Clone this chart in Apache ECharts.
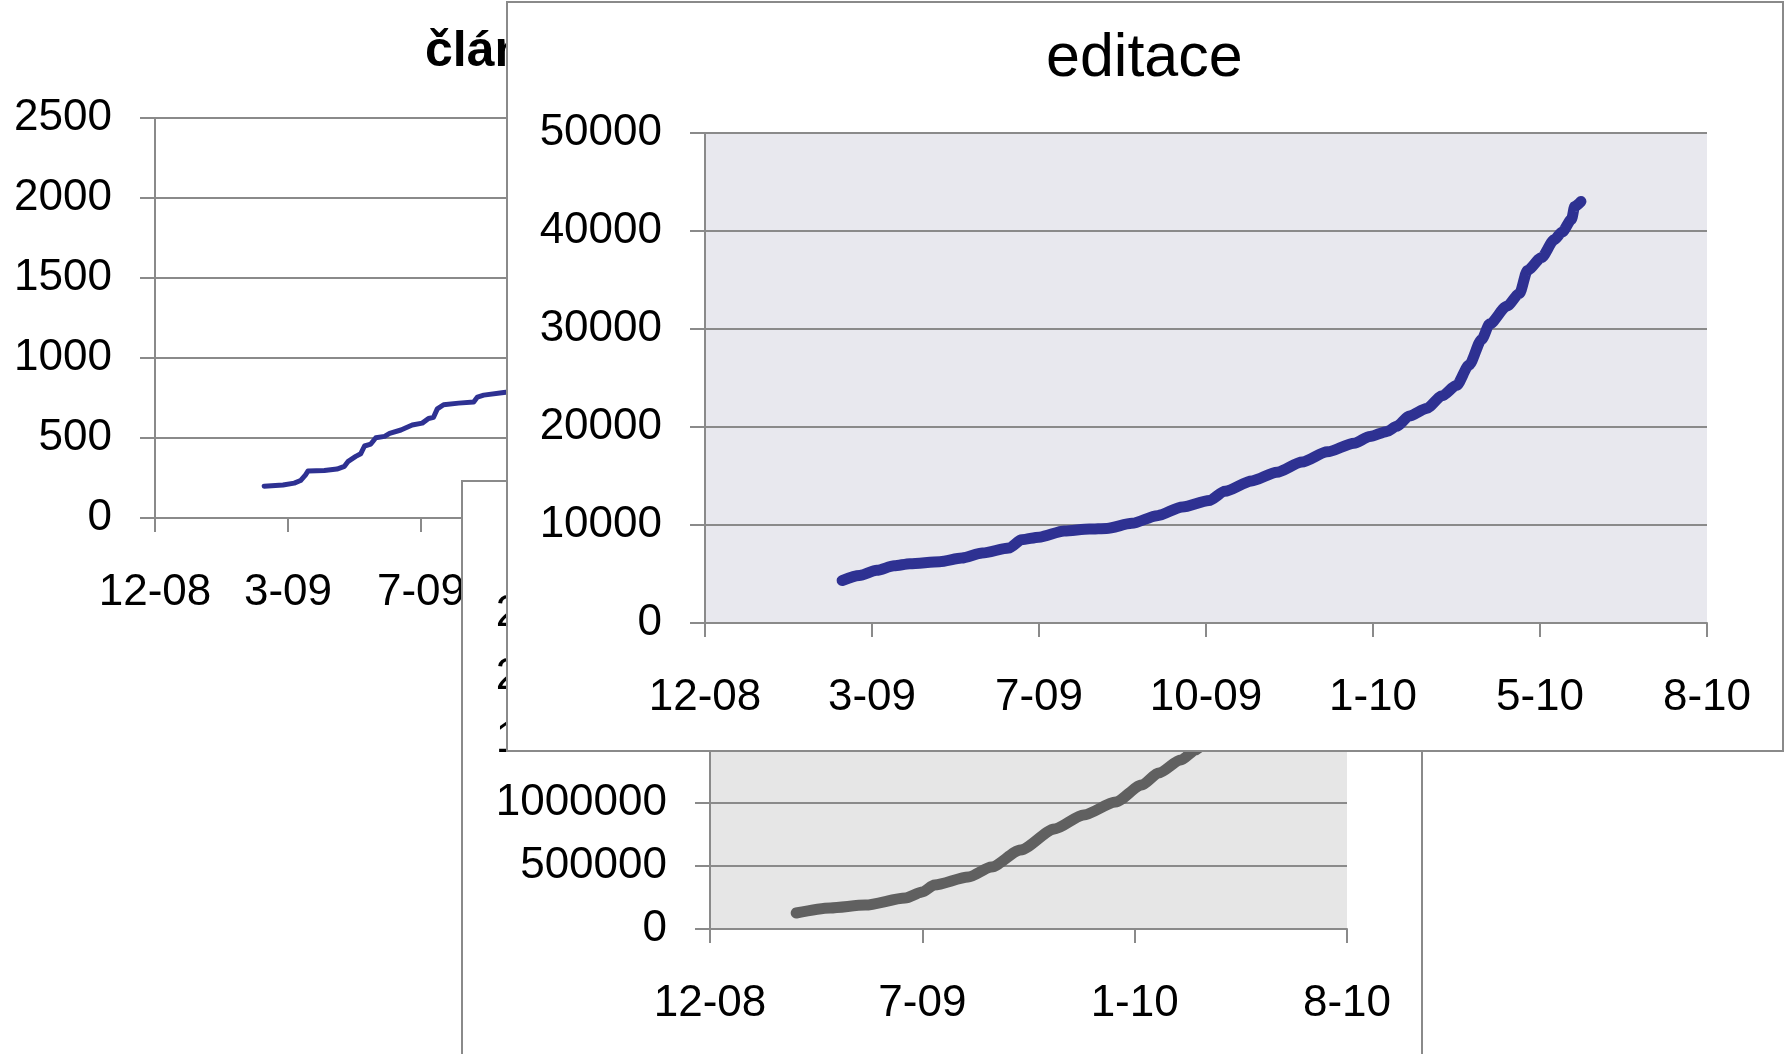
<!DOCTYPE html>
<html><head><meta charset="utf-8">
<script src="https://cdn.jsdelivr.net/npm/echarts@6/dist/echarts.min.js"></script>
<style>
html,body{margin:0;padding:0;width:1785px;height:1054px;overflow:hidden;background:#fff;}
.box{position:absolute;background:#fff;box-sizing:border-box;}
#c1{left:0;top:0;width:1000px;height:700px;z-index:1;}
#c3{left:461px;top:480px;width:962px;height:600px;border:2px solid #8a8a8a;z-index:2;}
#c2{left:506px;top:1px;width:1278px;height:751px;border:2px solid #8a8a8a;z-index:3;}
</style></head>
<body>
<div id="c1" class="box"></div>
<div id="c3" class="box"></div>
<div id="c2" class="box"></div>
<script>
// ---- data ----
const xTickLabels = ['12-08','3-09','7-09','10-09','1-10','5-10','8-10'];
const xTickLabelsWide = ['12-08','7-09','1-10','8-10'];

const articleDates = ['2009-02-26','2009-03-13','2009-03-22','2009-03-27','2009-03-31','2009-04-02','2009-04-15','2009-04-25','2009-05-01','2009-05-04','2009-05-10','2009-05-14','2009-05-17','2009-05-22','2009-05-26','2009-06-02','2009-06-06','2009-06-15','2009-06-24','2009-07-02','2009-07-07','2009-07-11','2009-07-14','2009-07-19','2009-07-31','2009-08-12','2009-08-15','2009-08-20','2009-09-05','2009-09-17'];
const articleCounts = [199,206,218,234,270,294,297,306,323,354,385,402,450,462,502,510,529,550,581,593,622,629,682,708,718,725,756,768,785,795];

const editDates = ['2009-02-26','2009-03-09','2009-03-20','2009-03-31','2009-04-10','2009-04-29','2009-05-13','2009-05-26','2009-06-12','2009-06-20','2009-07-01','2009-07-17','2009-08-02','2009-08-13','2009-08-29','2009-09-14','2009-09-30','2009-10-17','2009-10-27','2009-11-13','2009-11-29','2009-12-15','2009-12-31','2010-01-17','2010-01-27','2010-02-07','2010-02-13','2010-02-21','2010-03-04','2010-03-14','2010-03-23','2010-03-31','2010-04-08','2010-04-13','2010-04-24','2010-05-02','2010-05-07','2010-05-16','2010-05-24','2010-05-29','2010-06-04','2010-06-06','2010-06-10'];
const editCounts = [4330,4850,5370,5840,6050,6260,6620,7140,7660,8500,8760,9390,9590,9650,10170,10950,11840,12510,13450,14500,15380,16420,17470,18350,19030,19550,20070,21120,21900,23200,24250,26330,28940,30500,32330,33630,35980,37300,39100,39890,41190,42490,43010];

const sizeDates = ['2009-02-25','2009-03-31','2009-05-05','2009-06-14','2009-07-01','2009-07-13','2009-08-16','2009-09-08','2009-10-07','2009-11-10','2009-12-09','2010-01-10','2010-02-05','2010-02-22','2010-03-16','2010-03-31','2010-04-10'];
const sizeValues = [127000,167000,190000,246000,294000,349000,413000,492000,627000,794000,905000,1008000,1143000,1238000,1341000,1421000,1500000];

// ---- helpers ----
const ORIGIN = Date.UTC(2008,11,1);
const TICK_DAYS = 106;
const FONT = '"Liberation Sans", Arial, sans-serif';
const GRID = '#8a8a8a';
function dayOf(s){const p=s.split('-').map(Number);return Math.round((Date.UTC(p[0],p[1]-1,p[2])-ORIGIN)/86400000);}
function pairs(dates, vals){return dates.map((d,i)=>[dayOf(d), vals[i]]);}

function xAxisCfg(step, labels){
  return {type:'value', min:0, max:TICK_DAYS*6, interval:step,
    axisLine:{show:true, onZero:false, lineStyle:{color:GRID,width:2}},
    axisTick:{show:true, length:14, lineStyle:{color:GRID,width:2}},
    splitLine:{show:false},
    axisLabel:{fontSize:44, color:'#000', margin:53, fontFamily:FONT,
      formatter:v=>labels[Math.round(v/step)]}};
}
function yAxisCfg(max, step){
  return {type:'value', min:0, max:max, interval:step,
    axisLine:{show:true, lineStyle:{color:GRID,width:2}},
    axisTick:{show:true, length:15, lineStyle:{color:GRID,width:2}},
    splitLine:{show:true, lineStyle:{color:GRID,width:2}},
    axisLabel:{fontSize:44, color:'#000', margin:43, fontFamily:FONT, formatter:v=>String(v)}};
}

// ---- chart 1: články ----
const ch1 = echarts.init(document.getElementById('c1'));
ch1.setOption({
  animation:false,
  title:{text:'články', left:420, top:22, textStyle:{fontSize:50, fontWeight:'bold', fontFamily:FONT, color:'#000'}},
  grid:{left:155, top:118, width:798, height:400},
  xAxis:xAxisCfg(TICK_DAYS, xTickLabels),
  yAxis:yAxisCfg(2500, 500),
  series:[{type:'line', data:pairs(articleDates, articleCounts), showSymbol:false,
    lineStyle:{color:'#2e3192', width:5, cap:'round', join:'round'}}]
});

// ---- chart 3: gray (bottom) ----
const ch3 = echarts.init(document.getElementById('c3'));
ch3.setOption({
  animation:false,
  grid:{left:247, top:132, width:637, height:315, show:true, backgroundColor:'#e6e6e6', borderWidth:0},
  xAxis:xAxisCfg(TICK_DAYS*2, xTickLabelsWide),
  yAxis:yAxisCfg(2500000, 500000),
  series:[{type:'line', data:pairs(sizeDates, sizeValues), showSymbol:false, smooth:0.25, smoothMonotone:'x',
    lineStyle:{color:'#606060', width:11, cap:'round', join:'round'}}]
});

// ---- chart 2: editace (top) ----
const ch2 = echarts.init(document.getElementById('c2'));
ch2.setOption({
  animation:false,
  title:{text:'editace', left:533, top:21, textStyle:{fontSize:61, fontWeight:'normal', fontFamily:FONT, color:'#000'}},
  grid:{left:197, top:130, width:1002, height:490, show:true, backgroundColor:'#e8e8ee', borderWidth:0},
  xAxis:xAxisCfg(TICK_DAYS, xTickLabels),
  yAxis:yAxisCfg(50000, 10000),
  series:[{type:'line', data:pairs(editDates, editCounts), showSymbol:false, smooth:0.25, smoothMonotone:'x',
    lineStyle:{color:'#2e3192', width:11, cap:'round', join:'round'}}]
});
</script>
</body></html>
